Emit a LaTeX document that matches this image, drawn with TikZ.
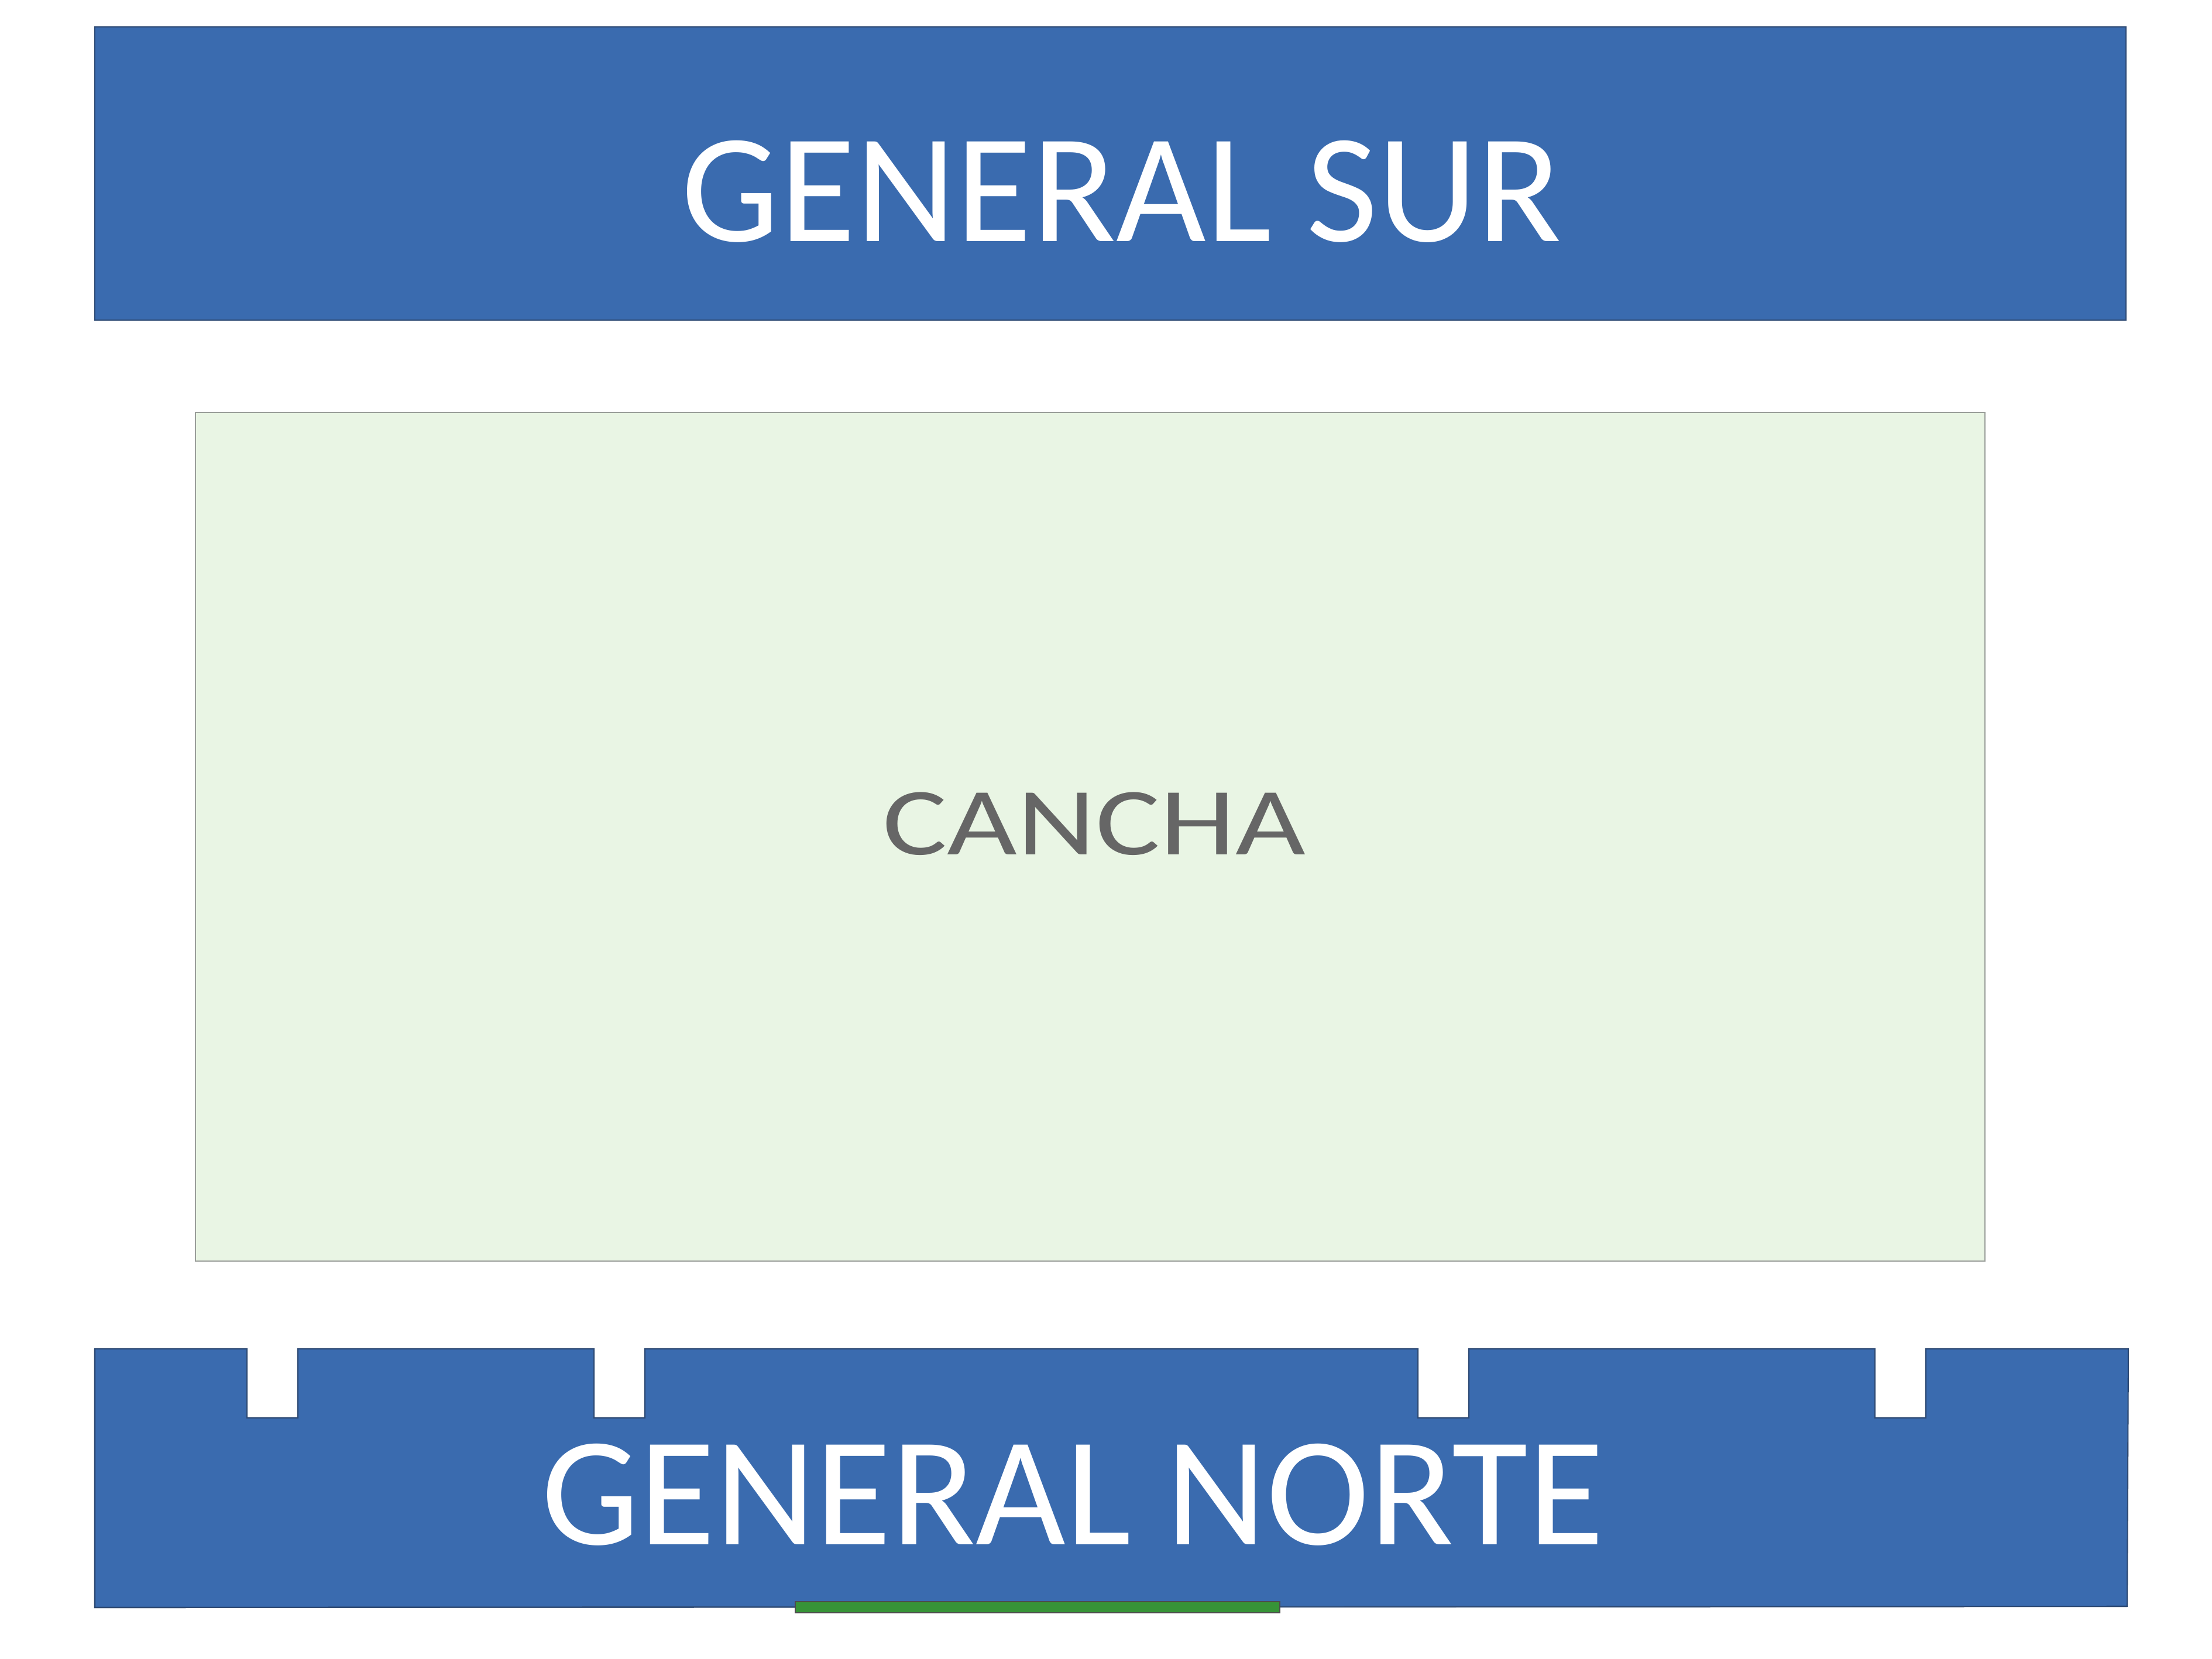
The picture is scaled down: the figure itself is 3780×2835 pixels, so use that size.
\documentclass[tikz,border=0pt]{standalone}
\usepackage{fontspec}
\setmainfont{Carlito}
\definecolor{standblue}{HTML}{3A6BAF}
\definecolor{standedge}{HTML}{2E4A73}
\definecolor{fieldgreen}{HTML}{E9F5E4}
\definecolor{fieldedge}{HTML}{9A9E9A}
\definecolor{textgray}{HTML}{666666}
\definecolor{bargreen}{HTML}{379337}
\tikzset{
  stand/.style={fill=standblue, draw=standedge, line width=0.6pt},
  field/.style={fill=fieldgreen, draw=fieldedge, line width=0.8pt},
  standlabel/.style={anchor=base, text=white, inner sep=0pt, font=\fontsize{75.5}{80}\selectfont},
  fieldlabel/.style={anchor=base, text=textgray, inner sep=0pt, xscale=1.26, font=\fontsize{46.7}{50}\selectfont},
  gatebar/.style={fill=bargreen, draw=black!70, line width=0.4pt}
}
\begin{document}
\begin{tikzpicture}[x=0.01cm, y=-0.01cm]
\useasboundingbox (0,0) rectangle (3780,2835);
% GENERAL SUR
\draw[stand] (162,46) rectangle (3633,547);
\node[standlabel] (sur) at (1917,412) {GENERAL SUR};
% CANCHA
\draw[field] (334,705) rectangle (3392,2155);
\node[fieldlabel] (cancha) at (1870,1460) {CANCHA};
% GENERAL NORTE with notches
\path[stand] (162,2305) -- (422,2305) -- (422,2423) -- (509,2423) -- (509,2305)
  -- (1015,2305) -- (1015,2423) -- (1102,2423) -- (1102,2305)
  -- (2423,2305) -- (2423,2423) -- (2510,2423) -- (2510,2305)
  -- (3204,2305) -- (3204,2423) -- (3291,2423) -- (3291,2305)
  -- (3637,2305) -- (3635,2745) -- (162,2747) -- cycle;
\draw[standedge, line width=0.6pt] (162,2305) -- (162,2747) -- (3635,2745);
\node[standlabel] (norte) at (1833,2639) {GENERAL NORTE};
% green bar
\draw[gatebar] (1359,2737) rectangle (2187,2756);
\end{tikzpicture}
\end{document}
